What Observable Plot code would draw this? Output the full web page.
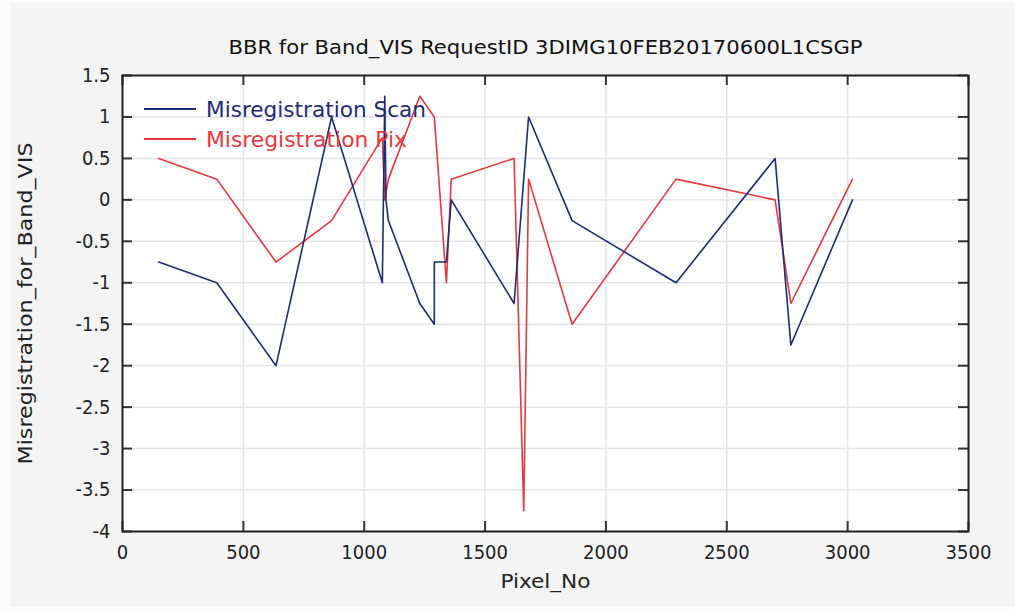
<!DOCTYPE html>
<html>
<head>
<meta charset="utf-8">
<script src="https://cdn.jsdelivr.net/npm/d3@7"></script>
<script src="https://cdn.jsdelivr.net/npm/@observablehq/plot@0.6"></script>
<style>
  html, body { margin: 0; padding: 0; background: #ffffff; }
  #chart { position: absolute; left: 0; top: 0; }
</style>
</head>
<body>
<div id="chart"></div>
<script>
const title = "BBR for Band_VIS RequestID 3DIMG10FEB20170600L1CSGP";
const xLabel = "Pixel_No";
const yLabel = "Misregistration_for_Band_VIS";
const seriesNames = ["Misregistration Scan", "Misregistration Pix"];
const seriesColors = ["#1f2a78", "#e8383d"];

const scanX = [150, 390, 635, 865, 1075, 1085, 1090, 1100, 1230, 1290, 1290, 1340, 1360, 1620, 1680, 1860, 2290, 2700, 2765, 3020];
const scanY = [-0.75, -1, -2, 1, -1, 1.25, 0, -0.25, -1.25, -1.5, -0.75, -0.75, 0, -1.25, 1, -0.25, -1, 0.5, -1.75, 0];

const pixX = [150, 390, 635, 865, 1075, 1085, 1100, 1230, 1290, 1340, 1360, 1620, 1660, 1680, 1860, 2290, 2700, 2765, 3020];
const pixY = [0.5, 0.25, -0.75, -0.25, 0.75, 0, 0.25, 1.25, 1, -1, 0.25, 0.5, -3.75, 0.25, -1.5, 0.25, 0, -1.25, 0.25];

const xTicks = [0, 500, 1000, 1500, 2000, 2500, 3000, 3500];
const yTicks = [1.5, 1, 0.5, 0, -0.5, -1, -1.5, -2, -2.5, -3, -3.5, -4];

const scan = scanX.map((x, i) => ({x, y: scanY[i]}));
const pix = pixX.map((x, i) => ({x, y: pixY[i]}));

const W = 1015, H = 610;
const mL = 122, mR = 47, mT = 75, mB = 79;
const fw = W - mL - mR, fh = H - mT - mB;
const font = "'DejaVu Sans Condensed', 'DejaVu Sans', sans-serif";
const textWidths = new Map([
  [title, 634],
  [xLabel, 90],
  [yLabel, 322],
  [seriesNames[0], 220],
  [seriesNames[1], 201]
]);

function legend(index, scales, values, dimensions) {
  const g = d3.create("svg:g");
  const items = [
    {name: seriesNames[0], color: seriesColors[0], y: mT + 34},
    {name: seriesNames[1], color: seriesColors[1], y: mT + 64}
  ];
  for (const it of items) {
    g.append("line")
      .attr("x1", mL + 22).attr("x2", mL + 74)
      .attr("y1", it.y).attr("y2", it.y)
      .attr("stroke", it.color).attr("stroke-width", 2);
    g.append("text")
      .attr("x", mL + 84).attr("y", it.y)
      .attr("dy", "0.36em")
      .attr("text-anchor", "start")
      .attr("fill", it.color)
      .attr("font-family", "'DejaVu Sans', sans-serif")
      .attr("font-size", 21)
      .text(it.name);
  }
  return g.node();
}

const chart = Plot.plot({
  width: W,
  height: H,
  marginLeft: mL,
  marginRight: mR,
  marginTop: mT,
  marginBottom: mB,
  style: {
    background: "linear-gradient(#f4f4f4, #f4f4f4) 10px 3px / 1005px 604px no-repeat, #fcfcfc",
    fontFamily: font, fontSize: "20px", color: "#222"
  },
  x: {domain: [0, 3500]},
  y: {domain: [-4, 1.5]},
  marks: [
    Plot.frame({fill: "white", stroke: null}),
    Plot.gridX(xTicks, {stroke: "#e3e5e9", strokeOpacity: 1, strokeWidth: 1.5}),
    Plot.gridY(yTicks, {stroke: "#e3e5e9", strokeOpacity: 1, strokeWidth: 1.5}),
    Plot.line(pix, {x: "x", y: "y", stroke: seriesColors[1], strokeWidth: 1.6}),
    Plot.line(scan, {x: "x", y: "y", stroke: seriesColors[0], strokeWidth: 1.6}),
    Plot.tickX(xTicks, {x: d => d, insetTop: fh - 10, stroke: "#333", strokeWidth: 2}),
    Plot.tickX(xTicks, {x: d => d, insetBottom: fh - 10, stroke: "#333", strokeWidth: 2}),
    Plot.tickY(yTicks, {y: d => d, insetRight: fw - 10, stroke: "#333", strokeWidth: 2}),
    Plot.tickY(yTicks, {y: d => d, insetLeft: fw - 10, stroke: "#333", strokeWidth: 2}),
    Plot.frame({stroke: "#222", strokeWidth: 2}),
    Plot.axisX(xTicks, {tickSize: 0, tickPadding: 13, label: null, fontSize: 20, fill: "#222", tickFormat: d => `${d}`}),
    Plot.axisY(yTicks, {tickSize: 0, tickPadding: 12, label: null, fontSize: 20, fill: "#222", tickFormat: d => `${d}`}),
    Plot.text([xLabel], {frameAnchor: "bottom", lineAnchor: "middle", dy: 50, fontSize: 20, fill: "#222"}),
    Plot.text([yLabel], {frameAnchor: "left", lineAnchor: "middle", textAnchor: "middle", dx: -97, rotate: -90, fontSize: 20, fill: "#222"}),
    Plot.text([title], {frameAnchor: "top", lineAnchor: "middle", dy: -28, fontSize: 20, fill: "#111"}),
    legend
  ]
});
d3.select(chart).selectAll("text").each(function () {
  const t = this.textContent;
  if (textWidths.has(t)) {
    this.setAttribute("textLength", textWidths.get(t));
    this.setAttribute("lengthAdjust", "spacingAndGlyphs");
  }
});
document.getElementById("chart").appendChild(chart);
</script>
</body>
</html>
